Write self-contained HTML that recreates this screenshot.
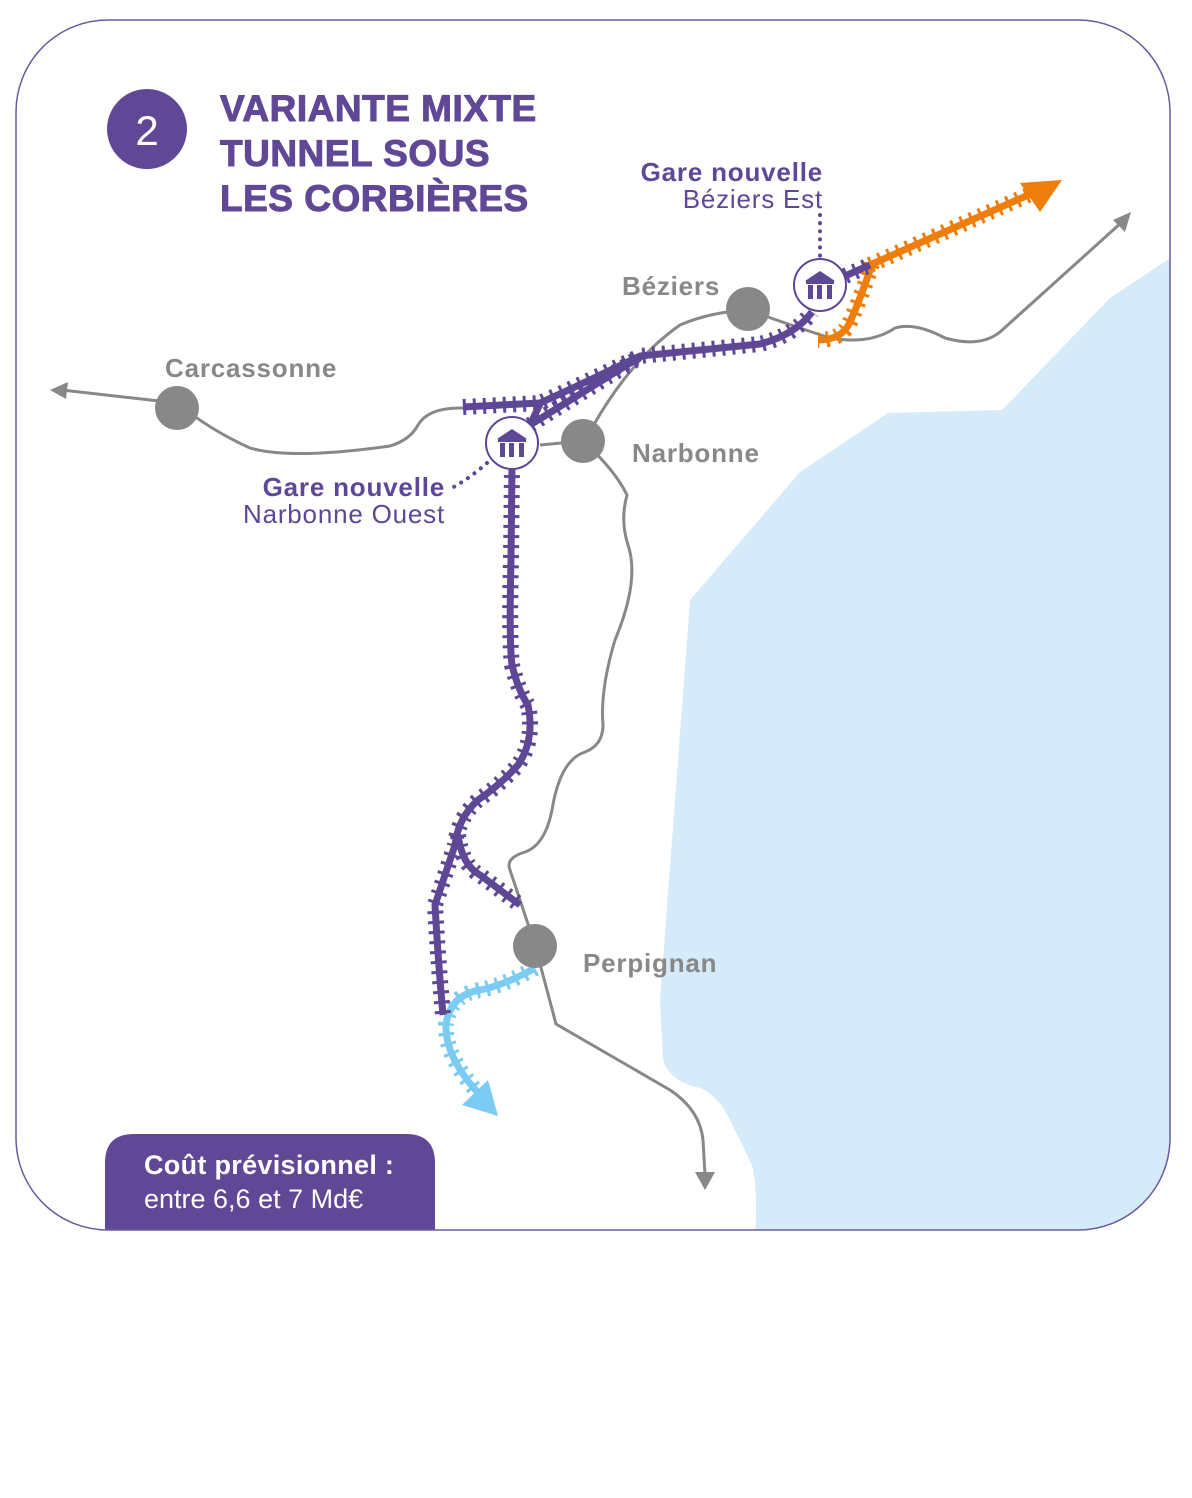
<!DOCTYPE html>
<html><head><meta charset="utf-8"><style>
html,body{margin:0;padding:0;background:#fff;width:1192px;height:1498px;overflow:hidden}
svg{display:block}
text{font-family:"Liberation Sans","DejaVu Sans",sans-serif}
</style></head><body>
<svg width="1192" height="1498" viewBox="0 0 1192 1498" xmlns="http://www.w3.org/2000/svg">
<defs>
<clipPath id="box"><rect x="16" y="20" width="1154" height="1210" rx="92" ry="92"/></clipPath>
</defs>
<rect x="16" y="20" width="1154" height="1210" rx="92" ry="92" fill="#fff"/>
<g clip-path="url(#box)">
<path d="M1175,255 L1110,298 L1002,410 L888,413 L800,472 L690,600 L660,1000 L663,1060 Q670,1082 700,1088 Q718,1095 730,1120 L752,1165 Q758,1190 755,1240 L1180,1240 Z" fill="#d6ebf9"/>
<path d="M105,1240 L105,1163 Q105,1134 134,1134 L406,1134 Q435,1134 435,1163 L435,1240 Z" fill="#604896"/>
</g>
<rect x="16" y="20" width="1154" height="1210" rx="92" ry="92" fill="none" stroke="#6a5aa0" stroke-width="1.5"/>

<g fill="none" stroke="#888" stroke-width="3">
<path d="M62,390 L177,403 Q210,430 250,448 Q290,460 390,446 Q410,440 418,425 Q428,408 460,408 L470,408"/>
<path d="M540,445 L583,441"/>
<path d="M592,428 Q630,360 680,325 Q710,312 748,310"/>
<path d="M748,310 Q790,325 830,338 Q870,345 895,328 Q915,322 945,338 Q980,348 1000,332 L1122,222"/>
<path d="M583,441 Q615,470 627,495 Q620,520 628,545 Q640,580 615,640 Q600,690 603,725 Q603,745 585,752 Q560,760 552,810 Q545,845 525,852 Q505,858 510,870 L535,945 L556,1024 L670,1090 Q700,1110 703,1140 L705,1175"/>
</g>
<polygon points="50,390 68,382 66,399" fill="#888"/>
<polygon points="1131,212 1113,220 1125,232" fill="#888"/>
<polygon points="695,1172 715,1172 705,1190" fill="#888"/>

<g fill="none" stroke="#ef7d0b">
<path d="M870,265 L1035,192" stroke-width="7"/>
<path d="M870,265 L1035,192" stroke-width="16" stroke-dasharray="3 7"/>
<path d="M872,264 Q862,295 850,322 Q842,340 818,340" stroke-width="7"/>
<path d="M872,264 Q862,295 850,322 Q842,340 818,340" stroke-width="16" stroke-dasharray="3 7"/>
</g>
<polygon points="1062,180 1020,183 1040,212" fill="#ef7d0b"/>

<g fill="none" stroke="#7ccbf2">
<path d="M535,968 Q505,985 480,990 Q450,995 446,1025 Q445,1060 485,1100" stroke-width="7"/>
<path d="M535,968 Q505,985 480,990 Q450,995 446,1025 Q445,1060 485,1100" stroke-width="16" stroke-dasharray="3 7"/>
</g>
<polygon points="498,1116 462,1105 488,1080" fill="#7ccbf2"/>

<g fill="none" stroke="#5e4795">
<path id="p1" d="M512,465 L511,560 Q509,640 512,665 Q518,690 528,705 Q535,740 518,765 Q500,785 478,800 Q458,818 455,845 Q445,875 435,905 Q438,960 443,1015"/>
<path id="p2" d="M458,835 Q462,865 480,875 L520,905"/>
<path id="p3" d="M463,407 L540,403 Q580,385 640,356 Q700,350 760,344 Q795,335 812,312"/>
<path id="p4" d="M530,425 Q570,400 640,357"/>
<path id="p5" d="M540,404 L530,425"/>
<path id="p6" d="M845,276 L870,265"/>
</g>
<g fill="none" stroke="#5e4795">
<use href="#p1" stroke-width="7"/><use href="#p1" stroke-width="16" stroke-dasharray="3 7"/>
<use href="#p2" stroke-width="7"/><use href="#p2" stroke-width="16" stroke-dasharray="3 7"/>
<use href="#p3" stroke-width="7"/><use href="#p3" stroke-width="16" stroke-dasharray="3 7"/>
<use href="#p4" stroke-width="7"/><use href="#p4" stroke-width="16" stroke-dasharray="3 7"/>
<use href="#p5" stroke-width="7"/>
<use href="#p6" stroke-width="7"/><use href="#p6" stroke-width="16" stroke-dasharray="3 7"/>
</g>

<g fill="#888">
<circle cx="177" cy="408" r="22"/>
<circle cx="583" cy="441" r="22"/>
<circle cx="748" cy="309" r="22"/>
<circle cx="535" cy="946" r="22"/>
</g>

<path d="M487,463 Q470,478 452,488" fill="none" stroke="#5e4795" stroke-width="4" stroke-linecap="round" stroke-dasharray="0.1 8"/>
<path d="M820,215 L820,258" fill="none" stroke="#5e4795" stroke-width="4" stroke-linecap="round" stroke-dasharray="0.1 8"/>

<g>
<circle cx="512" cy="443" r="26" fill="#fff" stroke="#5e4795" stroke-width="2"/>
<g fill="#5e4795" transform="translate(512,443)">
<path d="M-15,-4 L0,-14 L15,-4 Z"/><rect x="-14" y="-4" width="28" height="3"/>
<rect x="-12" y="0" width="5" height="14"/><rect x="-3" y="0" width="5" height="14"/><rect x="7" y="0" width="5" height="14"/>
</g>
<circle cx="820" cy="285" r="26" fill="#fff" stroke="#5e4795" stroke-width="2"/>
<g fill="#5e4795" transform="translate(820,285)">
<path d="M-15,-4 L0,-14 L15,-4 Z"/><rect x="-14" y="-4" width="28" height="3"/>
<rect x="-12" y="0" width="5" height="14"/><rect x="-3" y="0" width="5" height="14"/><rect x="7" y="0" width="5" height="14"/>
</g>
</g>

<circle cx="147" cy="129" r="40" fill="#604896"/>
<text x="147" y="145" fill="#fff" font-size="42" text-anchor="middle">2</text>
<g fill="#604896" font-weight="bold" font-size="37" stroke="#604896" stroke-width="1" letter-spacing="0.5">
<text x="220" y="121">VARIANTE MIXTE</text>
<text x="220" y="166">TUNNEL SOUS</text>
<text x="220" y="211">LES CORBIÈRES</text>
</g>

<g font-weight="bold" font-size="26" fill="#888" letter-spacing="0.8">
<text x="165" y="377">Carcassonne</text>
<text x="622" y="295">Béziers</text>
<text x="632" y="462">Narbonne</text>
<text x="583" y="972">Perpignan</text>
</g>
<g fill="#5e4795" font-size="26" text-anchor="end" letter-spacing="0.8">
<text x="823" y="181" font-weight="bold">Gare nouvelle</text>
<text x="823" y="208">Béziers Est</text>
<text x="445" y="496" font-weight="bold">Gare nouvelle</text>
<text x="445" y="523">Narbonne Ouest</text>
</g>
<text x="144" y="1174" fill="#fff" font-size="27" font-weight="bold" letter-spacing="0.3">Coût prévisionnel :</text>
<text x="144" y="1208" fill="#fff" font-size="27">entre 6,6 et 7 Md€</text>
</svg>
</body></html>
